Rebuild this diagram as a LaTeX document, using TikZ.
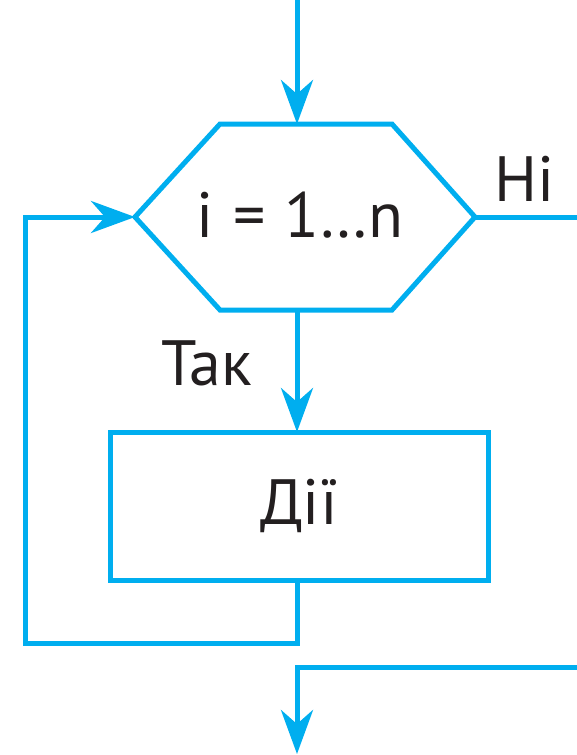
\documentclass[tikz,border=0pt]{standalone}
\usepackage{fontspec}
\setmainfont{PT Sans}
\usetikzlibrary{arrows.meta}
\definecolor{flow}{HTML}{00AEEF}
\definecolor{ink}{HTML}{231F20}
\begin{document}
\begin{tikzpicture}[x=1pt,y=-1pt,
  line/.style={draw=flow,line width=5pt,line join=miter},
  arr/.style={line,-{Stealth[length=44pt,width=32pt,inset=14pt]}},
  lbl/.style={font=\fontsize{64}{74}\selectfont,text=ink,inner sep=0pt},
  actbox/.style={line,rectangle,minimum width=378pt,minimum height=148pt,inner sep=0pt,font=\fontsize{64}{74}\selectfont,text=ink}
]
\useasboundingbox (0,0) rectangle (577,755);
% coordinates
\coordinate (start) at (297,-5);
\coordinate (hexT) at (297,124);
\coordinate (hexB) at (297,310);
\coordinate (hexL) at (135,217);
\coordinate (hexR) at (475,217);
\coordinate (noEnd) at (582,217);
\coordinate (loopA) at (297,643);
\coordinate (loopB) at (25,643);
\coordinate (loopC) at (25,217);
\coordinate (outA) at (582,667);
\coordinate (outB) at (297,667);
\coordinate (finish) at (297,754);
% hexagon
\draw[line] (hexL) -- (220,124) -- (392,124) -- (hexR) -- (392,310) -- (220,310) -- cycle;
\node[lbl,anchor=base] (cond) at (300,237) {i\hspace{0.3em}=\hspace{0.3em}1…n};
% action box
\node[actbox] (act) at (299,506) {Дії};
\coordinate (actT) at (297,432);
\coordinate (actB) at (297,580);
% labels
\node[lbl,anchor=base west] (no) at (494,201) {Ні};
\node[lbl,anchor=base west] (yes) at (161,385) {Так};
% connectors
\draw[arr] (start) -- (hexT);
\draw[arr] (hexB) -- (actT);
\draw[line] (hexR) -- (noEnd);
\draw[arr] (actB) -- (loopA) -- (loopB) -- (loopC) -- (hexL);
\draw[arr] (outA) -- (outB) -- (finish);
\end{tikzpicture}
\end{document}
